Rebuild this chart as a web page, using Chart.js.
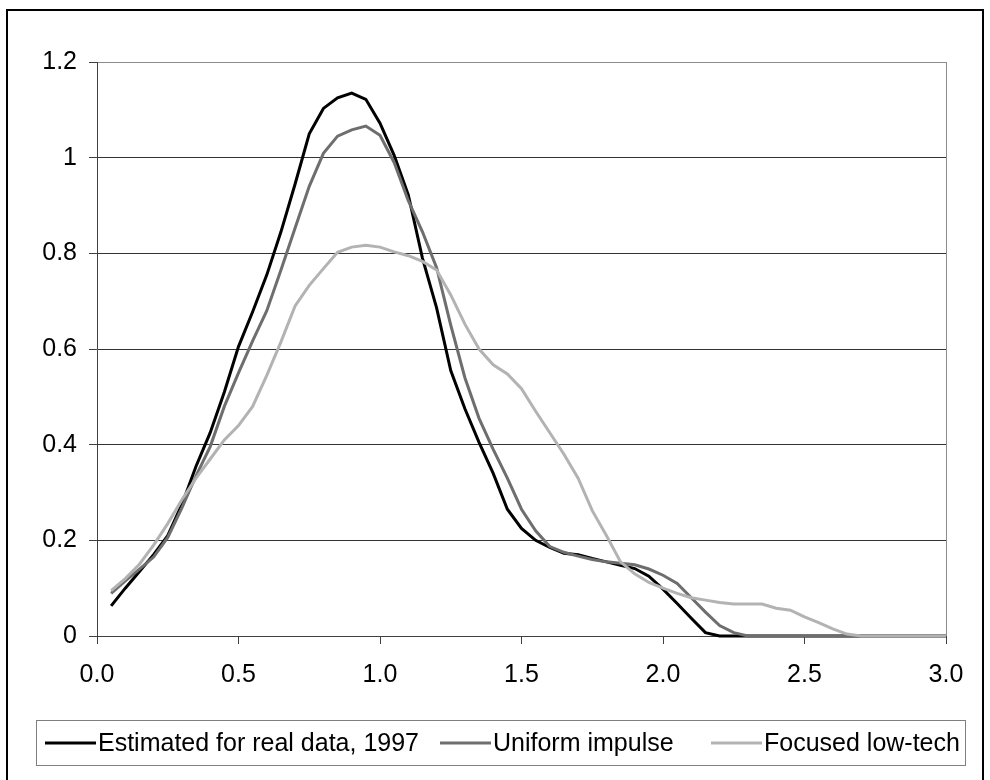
<!DOCTYPE html>
<html><head><meta charset="utf-8">
<script src="https://cdn.jsdelivr.net/npm/chart.js@4/dist/chart.umd.min.js"></script>
<style>html,body{margin:0;padding:0;background:#fff;}canvas{display:block;}</style>
</head><body>
<canvas id="c" width="990" height="780"></canvas>
<script>
const xValues = [0.05,0.10,0.15,0.20,0.25,0.30,0.35,0.40,0.45,0.50,0.55,0.60,0.65,0.70,0.75,0.80,0.85,0.90,0.95,1.00,
  1.05,1.10,1.15,1.20,1.25,1.30,1.35,1.40,1.45,1.50,1.55,1.60,1.65,1.70,1.75,1.80,1.85,1.90,1.95,2.00,
  2.05,2.10,2.15,2.20,2.25,2.30,2.35,2.40,2.45,2.50,2.55,2.60,2.65,2.70,2.75,2.80,2.85,2.90,2.95,3.00];
const estimated1997 = [0.063,0.10,0.135,0.17,0.21,0.275,0.355,0.425,0.51,0.605,0.678,0.755,0.845,0.945,1.05,1.103,1.125,1.135,1.122,1.072,
  1.005,0.922,0.79,0.686,0.555,0.475,0.405,0.34,0.265,0.225,0.20,0.185,0.173,0.17,0.162,0.155,0.148,0.141,0.125,0.098,
  0.068,0.037,0.007,0,0,0,0,0,0,0,0,0,0,0,0,0,0,0,0,0];
const uniformImpulse = [0.089,0.115,0.14,0.165,0.206,0.268,0.335,0.396,0.48,0.55,0.617,0.68,0.765,0.853,0.94,1.009,1.045,1.058,1.066,1.047,
  0.99,0.91,0.845,0.77,0.65,0.54,0.455,0.39,0.33,0.265,0.22,0.187,0.175,0.167,0.16,0.155,0.152,0.149,0.14,0.127,
  0.11,0.08,0.05,0.022,0.007,0,0,0,0,0,0,0,0,0,0,0,0,0,0,0];
const focusedLowTech = [0.095,0.12,0.15,0.19,0.235,0.285,0.33,0.37,0.41,0.44,0.48,0.545,0.615,0.69,0.733,0.768,0.802,0.813,0.817,0.813,
  0.803,0.795,0.783,0.765,0.713,0.652,0.60,0.567,0.548,0.517,0.47,0.425,0.38,0.33,0.262,0.21,0.155,0.13,0.112,0.10,
  0.089,0.08,0.075,0.07,0.067,0.067,0.067,0.058,0.054,0.04,0.028,0.015,0.004,0,0,0,0,0,0,0];
const seriesNames = ['Estimated for real data, 1997','Uniform impulse','Focused low-tech'];
const xTickLabels = ['0.0','0.5','1.0','1.5','2.0','2.5','3.0'];
const yTickLabels = ['0','0.2','0.4','0.6','0.8','1','1.2'];

const FONT = "'Liberation Sans', Arial, sans-serif";
const toPts = ys => xValues.map((x,i)=>({x:x,y:ys[i]}));

const framePlugin = {
  id:'framePlugin',
  afterDraw(chart){
    const ctx = chart.ctx;
    ctx.save();
    ctx.strokeStyle = '#000'; ctx.lineWidth = 2;
    ctx.strokeRect(7,10,976,780);
    ctx.strokeStyle = '#7f7f7f'; ctx.lineWidth = 1;
    ctx.strokeRect(36.5,720.5,929,45);
    const starts = [45,440,711];
    ctx.font = '25px ' + FONT;
    ctx.textBaseline = 'middle';
    ctx.fillStyle = '#000';
    chart.data.datasets.forEach((ds,i)=>{
      const x0 = starts[i], y = 743;
      ctx.strokeStyle = ds.borderColor; ctx.lineWidth = 3;
      ctx.beginPath(); ctx.moveTo(x0,y); ctx.lineTo(x0+51,y); ctx.stroke();
      ctx.fillText(ds.label, x0+53, y+1);
    });
    ctx.restore();
  }
};

new Chart(document.getElementById('c'), {
  type:'line',
  data:{ datasets:[
    {label:seriesNames[0], data:toPts(estimated1997), borderColor:'#000000', borderWidth:3, pointRadius:0, tension:0, order:2, clip:4},
    {label:seriesNames[1], data:toPts(uniformImpulse), borderColor:'#6e6e6e', borderWidth:3, pointRadius:0, tension:0, order:1, clip:4},
    {label:seriesNames[2], data:toPts(focusedLowTech), borderColor:'#b3b3b3', borderWidth:3, pointRadius:0, tension:0, order:0, clip:4}
  ]},
  options:{
    responsive:false, animation:false,
    layout:{padding:{left:0,top:62,right:44,bottom:84}},
    plugins:{legend:{display:false}, tooltip:{enabled:false}},
    scales:{
      x:{type:'linear', min:0, max:3,
        afterFit:s=>{s.height=60;},
        ticks:{stepSize:0.5, font:{family:FONT,size:25}, color:'#000', padding:16, maxRotation:0,
          callback:(v,i)=>xTickLabels[i]},
        grid:{drawOnChartArea:true, color:c=>(c.tick && c.tick.value===3)?'#8c8c8c':'rgba(0,0,0,0)', tickColor:'#404040', tickLength:8, lineWidth:1},
        border:{color:'#404040', width:1}
      },
      y:{min:0, max:1.2,
        afterFit:s=>{s.width=97;},
        ticks:{stepSize:0.2, font:{family:FONT,size:25}, color:'#000', padding:12,
          callback:(v,i)=>yTickLabels[i]},
        grid:{color:c=>(c.tick && Math.abs(c.tick.value-1.2)<1e-6)?'#8c8c8c':'#333333', tickColor:'#404040', tickLength:8, lineWidth:1},
        border:{color:'#404040', width:1}
      }
    }
  },
  plugins:[framePlugin]
});
</script>
</body></html>
